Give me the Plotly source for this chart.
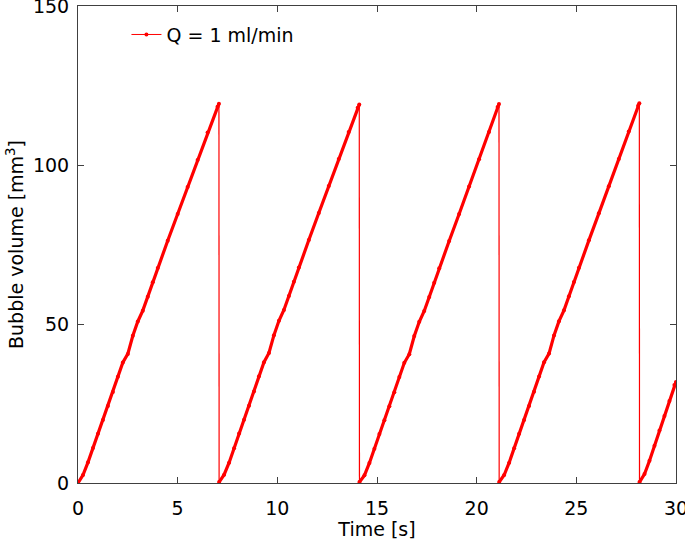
import plotly.graph_objects as go

# Read-off data: each bubble-growth cycle (time in s, volume in mm^3)
cycle1_t = [0.00, 0.25, 0.50, 0.75, 1.00, 1.25, 1.50, 1.75, 2.00, 2.25, 2.50, 2.75,
            3.00, 3.25, 3.50, 3.75, 4.00, 4.50, 5.00, 5.50, 6.00, 6.50, 7.00, 7.07]
cycle1_v = [0.0, 2.5, 6.5, 11.0, 15.5, 19.8, 24.2, 28.6, 33.4, 37.9, 40.6, 46.3,
            50.8, 54.2, 58.6, 63.1, 67.6, 76.2, 84.6, 93.1, 101.6, 110.2, 118.3, 119.3]

cycle2_t = [7.08, 7.33, 7.58, 7.83, 8.08, 8.33, 8.58, 8.83, 9.08, 9.33, 9.58, 9.83,
            10.08, 10.33, 10.58, 10.83, 11.08, 11.58, 12.08, 12.58, 13.08, 13.58, 14.03, 14.11]
cycle2_v = [0.3, 2.6, 6.4, 10.9, 15.6, 19.9, 24.3, 28.8, 33.6, 38.0, 40.9, 46.5,
            51.0, 54.4, 58.8, 63.3, 67.8, 76.4, 84.9, 93.4, 101.9, 110.4, 118.0, 119.0]

cycle3_t = [14.12, 14.37, 14.62, 14.87, 15.12, 15.37, 15.62, 15.87, 16.12, 16.37, 16.62, 16.87,
            17.12, 17.37, 17.62, 17.87, 18.12, 18.62, 19.12, 19.62, 20.12, 20.62, 21.05, 21.12]
cycle3_v = [0.3, 2.4, 6.3, 10.8, 15.4, 19.7, 24.1, 28.5, 33.3, 37.8, 40.5, 46.2,
            50.7, 54.1, 58.5, 63.0, 67.5, 76.1, 84.6, 93.2, 101.8, 110.4, 118.2, 119.2]

cycle4_t = [21.13, 21.38, 21.63, 21.88, 22.13, 22.38, 22.63, 22.88, 23.13, 23.38, 23.63, 23.88,
            24.13, 24.38, 24.63, 24.88, 25.13, 25.63, 26.13, 26.63, 27.13, 27.63, 28.10, 28.16]
cycle4_v = [0.3, 2.5, 6.4, 10.9, 15.5, 19.8, 24.2, 28.7, 33.5, 38.0, 40.7, 46.4,
            50.9, 54.3, 58.7, 63.2, 67.7, 76.3, 84.8, 93.3, 101.9, 110.5, 118.6, 119.4]

cycle5_t = [28.17, 28.42, 28.67, 28.92, 29.17, 29.42, 29.67, 29.92, 30.00]
cycle5_v = [0.3, 2.8, 7.0, 11.7, 16.5, 21.1, 25.8, 30.8, 31.8]

x_ticks = [0, 5, 10, 15, 20, 25, 30]
y_ticks = [0, 50, 100, 150]
series_name = "Q = 1 ml/min"

cycles = [(cycle1_t, cycle1_v), (cycle2_t, cycle2_v), (cycle3_t, cycle3_v),
          (cycle4_t, cycle4_v), (cycle5_t, cycle5_v)]

RED = "#ff0000"
FONT = "DejaVu Sans"

# rising parts (densely sampled in original -> drawn thick)
rx, ry = [], []
for t, v in cycles:
    rx += t + [None]
    ry += v + [None]

# detachment drops (thin connecting lines)
dx, dy = [], []
for (t1, v1), (t2, v2) in zip(cycles[:-1], cycles[1:]):
    dx += [t1[-1], t2[0], None]
    dy += [v1[-1], v2[0], None]

fig = go.Figure()
fig.add_trace(go.Scatter(x=dx, y=dy, mode="lines", line=dict(color=RED, width=1.2),
                         showlegend=False, hoverinfo="skip"))
fig.add_trace(go.Scatter(x=rx, y=ry, mode="lines+markers",
                         line=dict(color=RED, width=3.2),
                         marker=dict(color=RED, size=4),
                         showlegend=False))
fig.add_trace(go.Scatter(x=[None], y=[None], mode="lines+markers", name=series_name,
                         line=dict(color=RED, width=1), marker=dict(color=RED, size=4)))

axis_common = dict(showline=True, linecolor="#404040", linewidth=1, mirror="ticks",
                   ticks="inside", ticklen=6, tickcolor="#404040", showgrid=False,
                   zeroline=False, automargin=False, ticklabeloverflow="allow",
                   tickfont=dict(family=FONT, size=19, color="black"))

fig.update_layout(
    width=685, height=540,
    margin=dict(l=78, r=9, t=6, b=57),
    plot_bgcolor="white", paper_bgcolor="white",
    font=dict(family=FONT, size=19, color="black"),
    xaxis=dict(range=[0, 30], tickvals=x_ticks,
               title=dict(text="Time [s]", font=dict(family=FONT, size=19)),
               ticklabelstandoff=8, **axis_common),
    yaxis=dict(range=[0, 150], tickvals=y_ticks,
               title=dict(text="Bubble volume [mm<sup>3</sup>]", font=dict(family=FONT, size=19),
                          standoff=4),
               ticklabelstandoff=4, **axis_common),
    legend=dict(x=0.081, y=0.94, xanchor="left", yanchor="middle",
                bgcolor="rgba(0,0,0,0)", font=dict(family=FONT, size=19)),
)

fig.write_html("out.html", config={"displayModeBar": False},
               post_script="document.body.style.margin='0px';document.body.style.overflow='hidden';")
